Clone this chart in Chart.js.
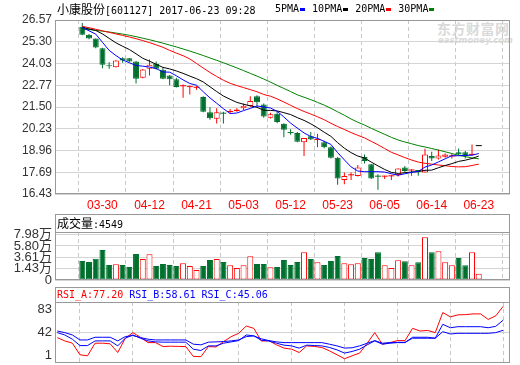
<!DOCTYPE html>
<html><head><meta charset="utf-8">
<script src="https://cdn.jsdelivr.net/npm/chart.js@4.4.0/dist/chart.umd.min.js"></script>
<style>
html,body{margin:0;padding:0;background:#fff;}
#wrap{position:relative;width:520px;height:365px;overflow:hidden;background:#fff;}
canvas{position:absolute;left:0;}
.t{position:absolute;white-space:nowrap;line-height:14px;height:14px;}
.cjk{font-family:"Noto Sans CJK SC";font-size:12px;}
.mono{font-family:"DejaVu Sans Mono";font-size:10px;}
.sq{display:inline-block;width:5px;height:3px;vertical-align:middle;margin:0 7px 0 1px;}
</style></head><body><div id="wrap">
<div class="t" style="left:437px;top:21px;font-family:'Noto Sans CJK SC';font-weight:bold;font-size:14px;color:#dadada;letter-spacing:0.5px;">东方财富网</div>
<div class="t" style="left:438px;top:33px;font-family:'DejaVu Sans';font-weight:bold;font-style:italic;font-size:8.5px;color:#dadada;">eastmoney.com</div>
<canvas id="cMain" width="520" height="214" style="top:0;width:520px;height:214px"></canvas>
<canvas id="cVol" width="520" height="73" style="top:214px;width:520px;height:73px"></canvas>
<canvas id="cRsi" width="520" height="78" style="top:287px;width:520px;height:78px"></canvas>
<div class="t" style="left:57px;top:2px;color:#000"><span class="cjk">小康股份</span><span class="mono">[601127] 2017-06-23 09:28</span></div>
<div class="t mono" style="left:275px;top:2px;color:#000">5PMA<span class="sq" style="background:#0000ff"></span>10PMA<span class="sq" style="background:#000"></span>20PMA<span class="sq" style="background:#ff0000"></span>30PMA<span class="sq" style="background:#008000"></span></div>
<div class="t" id="volHdr" style="left:57px;top:216px;color:#000"></div>
<div class="t mono" id="rsiHdr" style="left:57px;top:288px;"></div>
</div>
<script>
const dates = ['03-27','03-28','03-29','03-30','03-31','04-05','04-06','04-07','04-10','04-11','04-12','04-13','04-14','04-17','04-18','04-19','04-20','04-21','04-24','04-25','04-26','04-27','04-28','05-02','05-03','05-04','05-05','05-08','05-09','05-10','05-11','05-12','05-15','05-16','05-17','05-18','05-19','05-22','05-23','05-24','05-25','05-26','05-31','06-01','06-02','06-05','06-06','06-07','06-08','06-09','06-12','06-13','06-14','06-15','06-16','06-19','06-20','06-21','06-22','06-23'];
const xTickIndex = [3,10,17,24,31,38,45,52,59];

const open  = [26.17,25.71,25.49,24.92,23.92,23.82,24.34,24.34,24.15,23.21, 23.73,24.02,23.67,23.34,23.11,22.71,22.66,22.62,22.09,21.19, 20.81,21.13,21.21,21.27,21.42,21.56,22.13,21.65,20.88,21.10, 20.52,20.00,19.98,19.44,19.79,19.58,19.44,19.15,18.54,17.25, 17.52,17.48,18.58,18.16,17.46,17.44,17.46,17.54,17.97,17.80, 17.79,17.68,18.64,18.50,18.60,18.62,18.87,18.87,18.71,19.22];
const high  = [26.40,25.75,25.49,24.95,24.11,24.22,24.40,24.36,24.18,23.72, 24.27,24.15,23.80,23.36,23.20,22.81,22.76,22.72,22.12,21.48, 21.42,21.23,21.38,21.42,21.71,22.13,22.19,21.71,21.17,21.23, 20.56,20.21,20.04,19.69,20.04,19.94,19.54,19.21,18.58,17.68, 17.68,18.12,18.73,18.18,17.58,17.50,17.54,17.93,18.06,17.87, 17.82,19.06,18.89,19.02,18.79,18.77,19.08,18.93,19.31,19.22];
const low   = [25.68,25.45,24.92,23.76,23.73,23.80,24.08,24.13,22.87,23.18, 23.34,23.69,23.12,22.77,22.64,22.04,22.23,22.50,21.20,20.75, 20.54,20.54,21.11,21.23,21.32,21.52,21.52,20.88,20.83,20.56, 19.73,19.89,19.44,18.64,19.58,19.15,19.10,18.50,16.97,17.00, 17.25,17.45,18.21,17.30,16.68,17.31,17.25,17.45,17.68,17.50, 17.50,17.68,18.35,18.44,18.54,18.50,18.68,18.50,18.68,19.22];
const close = [25.71,25.49,24.97,23.96,23.87,24.21,24.21,24.15,23.15,23.69, 23.96,23.73,23.15,23.11,22.67,22.74,22.68,22.64,21.23,20.85, 21.19,21.11,21.23,21.36,21.57,21.85,21.77,20.94,21.08,20.62, 20.17,19.98,19.48,19.69,19.60,19.60,19.15,18.54,17.33,17.48, 17.54,17.97,18.35,17.33,17.44,17.46,17.48,17.91,17.77,17.82, 17.77,18.73,18.50,18.68,18.73,18.64,18.73,18.64,18.73,19.22];

const ma5  = [26.13,25.94,25.75,25.27,24.80,24.50,24.24,24.08,23.92,23.88, 23.83,23.74,23.54,23.53,23.32,23.08,22.87,22.77,22.39,22.03, 21.72,21.40,21.12,21.15,21.29,21.42,21.56,21.50,21.44,21.25, 20.92,20.56,20.27,19.99,19.78,19.67,19.50,19.32,18.84,18.42, 18.01,17.77,17.73,17.73,17.73,17.71,17.61,17.52,17.61,17.69, 17.75,18.00,18.12,18.30,18.48,18.66,18.66,18.68,18.69,18.79];
const ma10 = [26.13,26.05,25.96,25.76,25.50,25.24,25.04,24.85,24.60,24.34, 24.17,23.99,23.81,23.72,23.60,23.46,23.30,23.15,22.96,22.68, 22.40,22.14,21.95,21.77,21.66,21.57,21.48,21.31,21.30,21.27, 21.17,21.06,20.88,20.72,20.52,20.29,20.03,19.79,19.42,19.10, 18.84,18.64,18.53,18.29,18.07,17.86,17.69,17.63,17.67,17.71, 17.73,17.81,17.82,17.96,18.09,18.20,18.33,18.40,18.50,18.64];
const ma20 = [26.20,26.12,26.03,25.94,25.85,25.76,25.67,25.58,25.48,25.37, 25.25,25.12,24.98,24.80,24.64,24.49,24.30,24.04,23.77,23.51, 23.28,23.06,22.88,22.75,22.63,22.51,22.39,22.23,22.13,21.97, 21.79,21.60,21.41,21.24,21.09,20.93,20.76,20.55,20.36,20.19, 20.01,19.85,19.70,19.50,19.30,19.08,18.86,18.71,18.55,18.41, 18.29,18.22,18.17,18.12,18.08,18.03,18.01,18.02,18.09,18.17];
const ma30 = [26.05,26.01,25.97,25.92,25.87,25.81,25.75,25.68,25.60,25.51, 25.42,25.32,25.22,25.11,25.00,24.88,24.76,24.63,24.50,24.36, 24.22,24.08,23.93,23.78,23.62,23.46,23.30,23.13,22.95,22.76, 22.58,22.40,22.21,22.07,21.93,21.77,21.61,21.42,21.22,21.02, 20.80,20.61,20.45,20.26,20.08,19.91,19.73,19.58,19.46,19.36, 19.25,19.17,19.08,18.99,18.89,18.79,18.68,18.61,18.53,18.48];

// volume in 万 (10,000 shares)
const volume = [2.90,2.70,3.34,5.02,2.13,2.26,2.13,1.74,4.25,3.28, 4.19,1.93,2.32,2.13,1.93,2.45,1.93,1.16,1.93,3.09, 3.28,2.70,2.07,1.55,2.07,3.80,2.32,2.32,1.68,1.74, 3.09,2.13,2.70,4.58,3.28,2.65,2.13,2.90,3.86,2.45, 2.26,2.45,3.48,3.28,4.58,2.07,1.55,3.03,2.84,2.07, 2.65,7.47,4.58,4.77,2.65,2.07,3.48,2.07,4.58,0.4549];

const rsiA = [35.1,30.7,27.6,12.1,10.7,27.6,27.6,26.8,15.1,34.3, 41.8,35.6,28.4,28.4,23.1,23.6,23.3,23.1,9.8,9.5, 23.1,22.5,29.8,36.4,40.9,50.7,47.6,30.5,31.0,25.4, 21.0,19.6,15.1,24.0,23.3,21.8,17.4,12.1,6.7,10.7, 14.3,27.6,41.8,26.3,28.4,31.1,31.1,47.6,44.0,44.8, 41.8,68.9,63.0,65.7,66.0,67.0,67.0,59.6,64.4,77.20];
const rsiB = [41.8,38.7,33.0,24.4,24.4,30.7,30.7,30.7,24.0,34.3, 38.7,34.3,30.7,29.4,29.0,29.0,29.0,29.0,19.6,17.8, 24.0,24.0,27.6,29.4,31.1,38.7,37.5,31.5,30.5,27.6, 25.0,24.0,21.0,25.0,24.5,24.0,21.9,18.7,14.3,16.5, 19.6,25.4,30.7,26.3,27.6,28.4,28.4,35.6,35.6,35.6, 34.3,53.0,48.4,49.8,49.8,49.8,49.8,48.4,50.3,58.61];
const rsiC = [44.0,41.8,38.7,32.0,32.0,35.6,35.6,35.6,30.7,36.5, 37.9,35.2,33.0,32.0,32.0,32.0,32.0,32.0,26.3,25.4, 29.0,29.4,29.8,30.7,32.0,36.5,37.4,33.5,31.1,29.4, 28.4,28.4,28.4,28.4,28.4,28.4,26.3,24.0,21.0,21.5, 24.0,27.6,31.1,27.6,28.4,28.8,28.8,34.3,34.3,34.3, 34.3,43.1,40.0,40.9,40.9,40.9,40.9,40.9,41.8,45.06];

const priceTicks = [16.43,17.69,18.96,20.23,21.50,22.77,24.03,25.30,26.57];
const volTicks = [-0.77,1.43,3.61,5.80,7.98];
const volTickLabels = ['0','1.43万','3.61万','5.80万','7.98万'];
const volAxisMin = -0.77, volAxisMax = 8.50;
const rsiTicks = [1,42,83];

const RED = '#ff0000', GREEN = '#00702e', BLUE = '#0000ff';
const idx = dates.map((d, i) => i);
const XMIN = -0.30, XMAX = 59.89;

function candleColor(i){
  if (high[i] === low[i]) return '#000000';
  return close[i] >= open[i] ? RED : GREEN;
}
function isCross(i){ return Math.abs(close[i] - open[i]) <= 0.05; }

document.getElementById('volHdr').innerHTML = '<span class="cjk">成交量</span><span class="mono">:' + Math.round(volume[volume.length-1]*10000) + '</span>';
document.getElementById('rsiHdr').innerHTML =
  '<span style="color:#ff0000">RSI_A:' + rsiA[59].toFixed(2) + '</span> ' +
  '<span style="color:#0000ff">RSI_B:' + rsiB[59].toFixed(2) + '</span> ' +
  '<span style="color:#0000ff">RSI_C:' + rsiC[59].toFixed(2) + '</span>';

function framePlugin(hdr){
  return { id:'frame', afterDraw(ch){
    const a = ch.chartArea, c = ch.ctx;
    const l = Math.round(a.left)+0.5, r = Math.round(a.right)-0.5, t = Math.round(a.top)+0.5, b = Math.round(a.bottom)-0.5;
    c.save(); c.strokeStyle = '#999'; c.lineWidth = 1;
    c.strokeRect(l, t-hdr, r-l, b-t+hdr);
    if (hdr) { c.beginPath(); c.moveTo(l, t); c.lineTo(r, t); c.stroke(); }
    c.restore();
  }};
}

const yFont = {family:'"Liberation Sans","Noto Sans CJK SC"', size:12};
function xScale(showLabels){
  return {
    type:'linear', min:XMIN, max:XMAX,
    afterBuildTicks: s => { s.ticks = xTickIndex.map(v => ({value:v})); },
    ticks: { display:showLabels, autoSkip:false, maxRotation:0, padding:4, color:RED,
             font:{family:'"Liberation Sans"', size:12}, callback: v => dates[v] },
    grid: { color:'#c8c8c8', drawTicks:false },
    border: { display:false, dash:[4,3] },
    afterFit: s => { s.height = showLabels ? 20 : 0; s.paddingLeft = 0; s.paddingRight = 0; }
  };
}
function yAfterFit(s){ s.width = 55; s.paddingTop = 0; s.paddingBottom = 0; }

const common = { responsive:false, animation:false, devicePixelRatio:1, events:[],
  plugins:{ legend:{display:false}, tooltip:{enabled:false} } };

function maLine(arr, color){
  return { type:'line', data: idx.map(i => ({x:i, y:arr[i]})), borderColor:color, borderWidth:1,
           pointRadius:0, tension:0, fill:false, order:1 };
}

new Chart(document.getElementById('cMain'), {
  type:'bar',
  data:{ datasets:[
    { type:'bar', label:'wick', data: idx.map(i => ({x:i, y:[low[i], high[i]]})),
      grouped:false, barThickness:1, borderWidth:0, inflateAmount:0,
      backgroundColor: c => c.dataIndex === undefined ? RED : candleColor(c.dataIndex), order:3 },
    { type:'bar', label:'body', data: idx.map(i => ({x:i, y:[open[i], close[i]]})),
      grouped:false, barThickness:6, minBarLength:1, borderSkipped:false, inflateAmount:0,
      backgroundColor: c => { if (c.dataIndex === undefined) return RED; const i = c.dataIndex; const col = candleColor(i);
        return (col === RED && !isCross(i)) ? '#ffffff' : col; },
      borderColor: c => c.dataIndex === undefined ? RED : candleColor(c.dataIndex),
      borderWidth: c => (c.dataIndex === undefined || isCross(c.dataIndex)) ? 0 : 1, order:2 },
    maLine(ma5, BLUE), maLine(ma10, '#000000'), maLine(ma20, RED), maLine(ma30, '#008000')
  ]},
  options: Object.assign({}, common, {
    layout:{ padding:{ top:20, right:10, left:0, bottom:0 } },
    scales:{
      x: xScale(true),
      y: { min:16.43, max:26.57,
           afterBuildTicks: s => { s.ticks = priceTicks.map(v => ({value:v})); },
           ticks:{ color:'#333', font:yFont, padding:3, autoSkip:false, callback: v => v.toFixed(2) },
           grid:{ color:'#d4d4d4', drawTicks:false }, border:{display:false},
           afterFit: yAfterFit }
    }
  }),
  plugins:[framePlugin(0)]
});

new Chart(document.getElementById('cVol'), {
  type:'bar',
  data:{ datasets:[
    { type:'bar', label:'vol', data: idx.map(i => ({x:i, y:volume[i]})), base: volAxisMin,
      grouped:false, barThickness:6, borderSkipped:false, inflateAmount:0, borderWidth:1,
      backgroundColor: c => (c.dataIndex !== undefined && close[c.dataIndex] >= open[c.dataIndex]) ? '#ffffff' : GREEN,
      borderColor: c => (c.dataIndex !== undefined && close[c.dataIndex] >= open[c.dataIndex]) ? RED : GREEN }
  ]},
  options: Object.assign({}, common, {
    layout:{ padding:{ top:18, right:10, left:0, bottom:7 } },
    scales:{
      x: xScale(false),
      y: { min:volAxisMin, max:volAxisMax,
           afterBuildTicks: s => { s.ticks = volTicks.map(v => ({value:v})); },
           ticks:{ color:'#333', font:{family:'"Liberation Sans","Noto Sans CJK SC"', size:13}, padding:3, autoSkip:false, callback: (v, i) => volTickLabels[i] },
           grid:{ color:'#d4d4d4', drawTicks:false }, border:{display:false},
           afterFit: yAfterFit }
    }
  }),
  plugins:[framePlugin(18)]
});

new Chart(document.getElementById('cRsi'), {
  type:'line',
  data:{ datasets:[
    maLine(rsiC, BLUE), maLine(rsiB, BLUE), maLine(rsiA, RED)
  ]},
  options: Object.assign({}, common, {
    layout:{ padding:{ top:15, right:10, left:0, bottom:2 } },
    scales:{
      x: xScale(false),
      y: { min:1, max:83,
           afterBuildTicks: s => { s.ticks = rsiTicks.map(v => ({value:v})); },
           ticks:{ color:'#333', font:{family:'"Liberation Sans"', size:13}, padding:3, autoSkip:false,
                   callback: (v, i) => i === 0 ? [String(v), ''] : (i === rsiTicks.length-1 ? ['', String(v)] : String(v)) },
           grid:{ color: c => (c.tick && c.tick.value === 42) ? '#d4d4d4' : 'rgba(0,0,0,0)', drawTicks:false },
           border:{display:false},
           afterFit: yAfterFit }
    }
  }),
  plugins:[framePlugin(15)]
});
</script>
</body></html>
